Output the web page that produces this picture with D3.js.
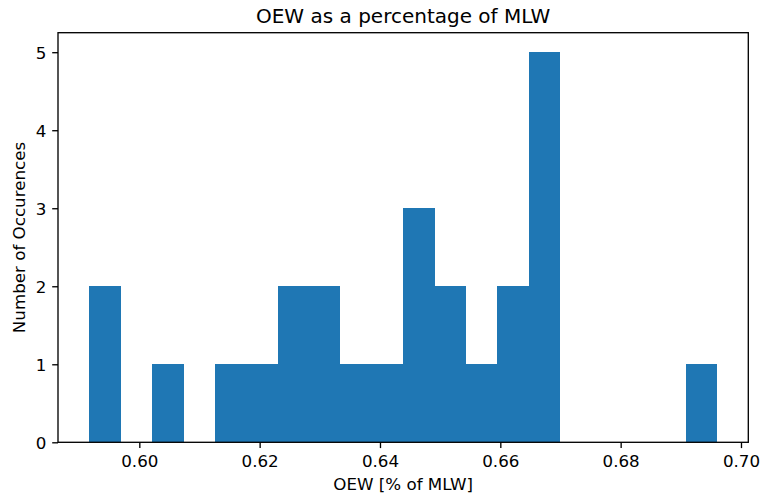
<!DOCTYPE html>
<html>
<head>
<meta charset="utf-8">
<script src="https://cdn.jsdelivr.net/npm/d3@7"></script>
<style>
  html, body { margin: 0; padding: 0; background: #fff; }
  svg { display: block; font-family: "DejaVu Sans", sans-serif; }
</style>
</head>
<body>
<svg id="chart" width="761" height="493"></svg>
<script>
// Histogram of OEW / MLW ratios: 20 equal-width bins between binLow and binHigh
const binLow = 0.5917;
const binHigh = 0.6960;
const binCounts = [2, 0, 1, 0, 1, 1, 2, 2, 1, 1, 3, 2, 1, 2, 5, 0, 0, 0, 0, 1];
const xTicks = [0.60, 0.62, 0.64, 0.66, 0.68, 0.70];
const yTicks = [0, 1, 2, 3, 4, 5];

const titleText = "OEW as a percentage of MLW";
const xLabelText = "OEW [% of MLW]";
const yLabelText = "Number of Occurences";

const W = 761, H = 493;
const plot = { left: 58, right: 748.3, top: 32.7, bottom: 442.3 };
const barColor = "#1f77b4";
const fontTick = 16.7, fontTitle = 20;
const tickLen = 5.8, tickPad = 5.8, lineW = 1.33;

const nBins = binCounts.length;
const binW = (binHigh - binLow) / nBins;
const bins = binCounts.map((c, i) => ({ x0: binLow + i * binW, x1: binLow + (i + 1) * binW, count: c }));

// 5% autoscale margin on each side of the data range
const span = binHigh - binLow;
const x = d3.scaleLinear()
  .domain([binLow - 0.05 * span, binHigh + 0.05 * span])
  .range([plot.left, plot.right]);
const yMax = d3.max(binCounts);
const y = d3.scaleLinear()
  .domain([0, yMax * 1.05])
  .range([plot.bottom, plot.top]);

const svg = d3.select("#chart");

// bars (crisp edges so neighbouring bins join without seams)
svg.append("g")
  .attr("shape-rendering", "crispEdges")
  .selectAll("rect")
  .data(bins.filter(b => b.count > 0))
  .join("rect")
  .attr("x", d => x(d.x0))
  .attr("width", d => x(d.x1) - x(d.x0))
  .attr("y", d => y(d.count))
  .attr("height", d => y(0) - y(d.count))
  .attr("fill", barColor);

// x axis
const xAxis = d3.axisBottom(x)
  .tickValues(xTicks)
  .tickFormat(d3.format(".2f"))
  .tickSize(tickLen)
  .tickPadding(tickPad);
const gx = svg.append("g")
  .attr("transform", `translate(0,${plot.bottom})`)
  .call(xAxis);
gx.select(".domain").remove();
gx.selectAll(".tick line").attr("stroke", "#000").attr("stroke-width", lineW);
gx.selectAll(".tick text")
  .attr("font-size", fontTick)
  .attr("font-family", "DejaVu Sans")
  .attr("fill", "#000")
  .attr("dy", null)
  .attr("y", 467 - plot.bottom);

// y axis
const yAxis = d3.axisLeft(y)
  .tickValues(yTicks)
  .tickFormat(d3.format("d"))
  .tickSize(tickLen)
  .tickPadding(tickPad);
const gy = svg.append("g")
  .attr("transform", `translate(${plot.left},0)`)
  .call(yAxis);
gy.select(".domain").remove();
gy.selectAll(".tick line").attr("stroke", "#000").attr("stroke-width", lineW);
gy.selectAll(".tick text")
  .attr("font-size", fontTick)
  .attr("font-family", "DejaVu Sans")
  .attr("fill", "#000")
  .attr("dy", "0.365em");

// frame
svg.append("rect")
  .attr("x", plot.left)
  .attr("y", plot.top)
  .attr("width", plot.right - plot.left)
  .attr("height", plot.bottom - plot.top)
  .attr("fill", "none")
  .attr("stroke", "#000")
  .attr("stroke-width", lineW);

// title and axis labels
const cx = (plot.left + plot.right) / 2;
svg.append("text")
  .attr("x", cx).attr("y", 23)
  .attr("text-anchor", "middle")
  .attr("font-size", fontTitle)
  .attr("fill", "#000")
  .text(titleText);

svg.append("text")
  .attr("x", cx).attr("y", 489.5)
  .attr("text-anchor", "middle")
  .attr("font-size", fontTick)
  .attr("fill", "#000")
  .text(xLabelText);

svg.append("text")
  .attr("transform", `translate(25,${(plot.top + plot.bottom) / 2}) rotate(-90)`)
  .attr("text-anchor", "middle")
  .attr("font-size", fontTick)
  .attr("fill", "#000")
  .text(yLabelText);
</script>
</body>
</html>
